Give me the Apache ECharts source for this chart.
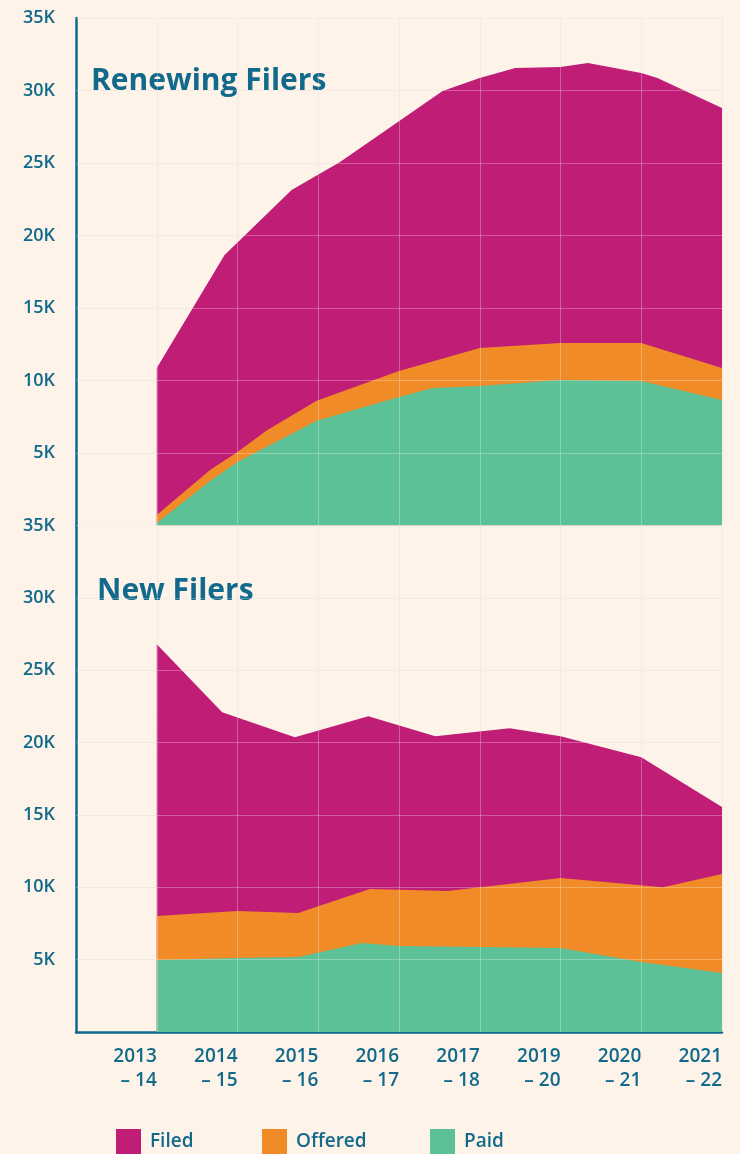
<!DOCTYPE html>
<html>
<head>
<meta charset="utf-8">
<script src="https://cdn.jsdelivr.net/npm/echarts@6/dist/echarts.min.js"></script>
<style>
  html, body { margin: 0; padding: 0; background: #fdf3e8; }
  #chart { width: 740px; height: 1154px; }
</style>
</head>
<body>
<div id="chart"></div>
<script>
// ---- data ----
const periodLabels = ['2013\n– 14', '2014\n– 15', '2015\n– 16', '2016\n– 17', '2017\n– 18', '2019\n– 20', '2020\n– 21', '2021\n– 22'];
const seriesNames = ['Filed', 'Offered', 'Paid'];
const panelTitles = ['Renewing Filers', 'New Filers'];

// [period position, count]
const renewingFiled = [[1, 10860], [1.84, 18660], [2.67, 23140], [3.27, 25070], [4.54, 29970], [5, 30860], [5.44, 31550], [6, 31620], [6.34, 31900], [7, 31210], [7.2, 30860], [8, 28790]];
const renewingOffered = [[1, 720], [1.66, 3830], [2, 5070], [2.37, 6590], [2.98, 8610], [4, 10650], [5, 12240], [6, 12590], [7, 12590], [8, 10860]];
const renewingPaid = [[1, 170], [1.66, 3070], [2, 4380], [2.98, 7220], [4, 8860], [4.42, 9480], [5, 9620], [6, 10030], [7, 9970], [8, 8660]];

const newFiled = [[1, 26800], [1.81, 22100], [2.71, 20370], [3.62, 21820], [4.45, 20440], [5.37, 20990], [6, 20440], [7, 18990], [8, 15540]];
const newOffered = [[1, 8010], [2, 8360], [2.75, 8220], [3.64, 9880], [4.6, 9740], [6, 10640], [7.27, 10010], [8, 10910]];
const newPaid = [[1, 4970], [2, 5110], [2.75, 5180], [3.54, 6150], [3.99, 5940], [5, 5870], [6, 5800], [7, 4830], [8, 4070]];

// ---- style ----
const TEAL = '#11698b';
const COLORS = ['#bf1d76', '#f08b28', '#5cc196'];
const FONT = '"Open Sans", "DejaVu Sans", sans-serif';

const chart = echarts.init(document.getElementById('chart'), null, { renderer: 'canvas' });

const grids = [
  { left: 76, right: 18, top: 18, bottom: 1154 - 525.5 },
  { left: 76, right: 18, top: 525.5, bottom: 1154 - 1032 }
];

function xAxisFor(gridIndex, bottomPanel, overlay) {
  return {
    type: 'value', gridIndex, min: 0, max: 8, interval: 1,
    z: overlay ? 10 : 0,
    axisLine: { show: bottomPanel && !overlay, onZero: false, lineStyle: { color: TEAL, width: 2.5 } },
    axisTick: { show: false },
    axisLabel: {
      show: bottomPanel && !overlay,
      align: 'right', margin: 13,
      color: TEAL, fontFamily: FONT, fontSize: 19, fontWeight: 600, lineHeight: 24,
      formatter: v => (v >= 1 ? periodLabels[v - 1] : '')
    },
    splitLine: { show: true, showMinLine: false, lineStyle: { color: overlay ? 'rgba(255,255,255,0.28)' : '#ede4d9', width: 1 } }
  };
}
function yAxisFor(gridIndex, bottomPanel, overlay) {
  return {
    type: 'value', gridIndex, min: 0, max: 35000, interval: 5000,
    z: overlay ? 10 : 0,
    axisLine: { show: !overlay, lineStyle: { color: TEAL, width: 2.5 } },
    axisTick: { show: false },
    axisLabel: {
      show: !overlay,
      margin: 21,
      showMinLabel: false,
      showMaxLabel: true,
      color: TEAL, fontFamily: FONT, fontSize: 18, fontWeight: 600,
      formatter: v => (v === 0 ? '' : (v / 1000) + 'K')
    },
    splitLine: { show: true, showMinLine: !(bottomPanel), lineStyle: { color: overlay ? 'rgba(255,255,255,0.28)' : '#ede4d9', width: 1 } }
  };
}

function area(name, data, idx, color, z) {
  return {
    name, type: 'line', data, xAxisIndex: idx, yAxisIndex: idx,
    symbol: 'none', smooth: false, color, z,
    lineStyle: { width: 0, color },
    itemStyle: { color },
    areaStyle: { color, opacity: 1 },
    silent: true
  };
}

const legendLefts = [116, 262, 430];

const option = {
  backgroundColor: '#fdf3e8',
  animation: false,
  grid: [grids[0], grids[1], grids[0], grids[1]],
  xAxis: [xAxisFor(0, false, false), xAxisFor(1, true, false), xAxisFor(2, false, true), xAxisFor(3, true, true)],
  yAxis: [yAxisFor(0, false, false), yAxisFor(1, true, false), yAxisFor(2, false, true), yAxisFor(3, true, true)],
  title: [
    { text: panelTitles[0], left: 86, top: 61, textStyle: { color: TEAL, fontFamily: FONT, fontSize: 30, fontWeight: 'bold' } },
    { text: panelTitles[1], left: 92, top: 571, textStyle: { color: TEAL, fontFamily: FONT, fontSize: 30, fontWeight: 'bold' } }
  ],
  legend: seriesNames.map((n, i) => ({
    data: [n], left: legendLefts[i], top: 1129, orient: 'horizontal',
    icon: 'rect', itemWidth: 25, itemHeight: 25, padding: 0,
    selectedMode: false,
    itemStyle: { color: COLORS[i], borderWidth: 0 },
    textStyle: { color: TEAL, fontFamily: FONT, fontSize: 19, fontWeight: 600, padding: [0, 0, 0, 4] }
  })),
  series: [
    area('Filed', renewingFiled, 0, COLORS[0], 2),
    area('Offered', renewingOffered, 0, COLORS[1], 3),
    area('Paid', renewingPaid, 0, COLORS[2], 4),
    area('Filed', newFiled, 1, COLORS[0], 2),
    area('Offered', newOffered, 1, COLORS[1], 3),
    area('Paid', newPaid, 1, COLORS[2], 4)
  ]
};
chart.setOption(option);
</script>
</body>
</html>
